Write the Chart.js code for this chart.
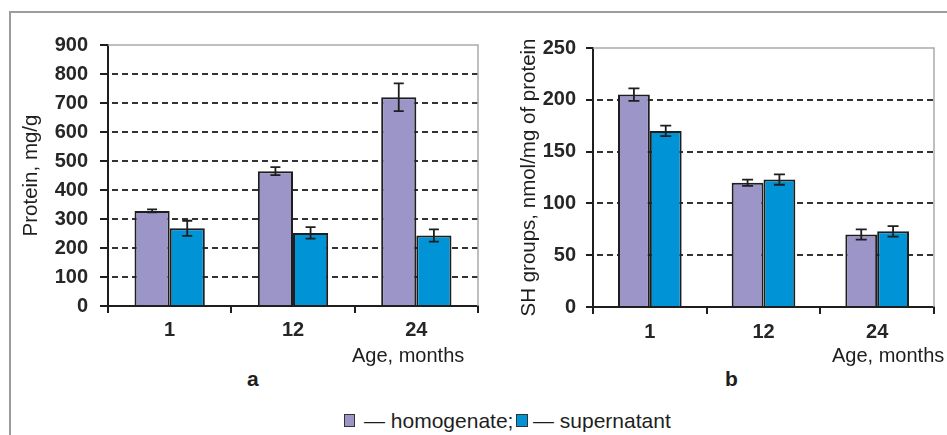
<!DOCTYPE html>
<html>
<head>
<meta charset="utf-8">
<script src="https://cdn.jsdelivr.net/npm/chart.js@4/dist/chart.umd.min.js"></script>
<style>
  html, body { margin: 0; padding: 0; background: #fff; }
  #page { position: relative; width: 947px; height: 435px; overflow: hidden;
          font-family: 'Liberation Sans', Arial, sans-serif; color: #1e1e1e; }
  #frame { position: absolute; left: 9px; top: 11px; width: 980px; height: 470px;
           border-top: 2px solid #9c9c9c; border-left: 2px solid #9c9c9c; }
  canvas { position: absolute; top: 0; }
  .t { position: absolute; white-space: nowrap; line-height: 20px; }
  .sw { position: absolute; box-sizing: border-box; border: 1.5px solid #333; }
</style>
</head>
<body>
<div id="page">
  <div id="frame"></div>
  <canvas id="chartA" width="480" height="345" style="left:0px"></canvas>
  <canvas id="chartB" width="467" height="345" style="left:480px"></canvas>

  <div class="t" style="left:352px;top:345px;font-size:20px">Age, months</div>
  <div class="t" style="left:832px;top:345px;font-size:20px">Age, months</div>
  <div class="t" style="left:247px;top:369px;font-size:21px;font-weight:bold">a</div>
  <div class="t" style="left:725px;top:369px;font-size:21px;font-weight:bold">b</div>

  <div class="sw" style="left:344px;top:414px;width:11px;height:13px;background:#9b95c8"></div>
  <div class="t" style="left:364px;top:411px;font-size:21px">— homogenate;</div>
  <div class="sw" style="left:516px;top:414px;width:12px;height:13px;background:#0093d6"></div>
  <div class="t" style="left:533px;top:411px;font-size:21px">— supernatant</div>
</div>

<script>
// Age groups (months)
const ages = ['1', '12', '24'];

// Panel a: protein content, mg/g
const proteinHomogenate      = [328, 465, 720];
const proteinHomogenateErr   = [5, 14, 48];
const proteinSupernatant     = [268, 252, 243];
const proteinSupernatantErr  = [26, 20, 21];
const proteinAxisMax = 900;
const proteinAxisStep = 100;

// Panel b: SH groups, nmol/mg of protein
const shHomogenate      = [205, 120, 70];
const shHomogenateErr   = [6, 3, 5];
const shSupernatant     = [170, 123, 73];
const shSupernatantErr  = [5, 5, 5];
const shAxisMax = 250;
const shAxisStep = 50;

const colHomogenate = '#9b95c8';
const colSupernatant = '#0093d6';
const ink = '#1e1e1e';
const FONT = "'Liberation Sans', Arial, sans-serif";

// whiskers: mean ± error, drawn through the y scale
const errorBars = {
  id: 'errorBars',
  afterDatasetsDraw(chart, args, opts) {
    const { ctx } = chart;
    const y = chart.scales.y;
    const half = opts.cap / 2;
    chart.data.datasets.forEach((ds, di) => {
      chart.getDatasetMeta(di).data.forEach((bar, i) => {
        const v = ds.data[i], e = ds.errors[i];
        const x = bar.x;
        const yHi = y.getPixelForValue(v + e);
        const yLo = y.getPixelForValue(v - e);
        ctx.save();
        ctx.strokeStyle = ink;
        ctx.lineWidth = 1.8;
        ctx.beginPath();
        ctx.moveTo(x, yHi); ctx.lineTo(x, yLo);
        ctx.moveTo(x - half, yHi); ctx.lineTo(x + half, yHi);
        ctx.moveTo(x - half, yLo); ctx.lineTo(x + half, yLo);
        ctx.stroke();
        ctx.restore();
      });
    });
  }
};

// light top/right edge of the plot area
const plotFrame = {
  id: 'plotFrame',
  beforeDatasetsDraw(chart) {
    const { ctx, chartArea: a } = chart;
    ctx.save();
    ctx.strokeStyle = '#aaaaaa';
    ctx.lineWidth = 1.5;
    ctx.beginPath();
    ctx.moveTo(a.left, a.top);
    ctx.lineTo(a.right, a.top);
    ctx.lineTo(a.right, a.bottom);
    ctx.stroke();
    ctx.restore();
  }
};

function panel(id, g) {
  return new Chart(document.getElementById(id), {
    type: 'bar',
    data: {
      labels: ages,
      datasets: [
        { label: 'homogenate', data: g.homog, errors: g.homogErr,
          backgroundColor: colHomogenate, borderColor: ink, borderWidth: 2, borderSkipped: 'start' },
        { label: 'supernatant', data: g.sup, errors: g.supErr,
          backgroundColor: colSupernatant, borderColor: ink, borderWidth: 2, borderSkipped: 'start' }
      ]
    },
    options: {
      responsive: false,
      animation: false,
      events: [],
      layout: { padding: g.pad },
      datasets: { bar: { categoryPercentage: g.catPct, barPercentage: 1 } },
      plugins: {
        legend: { display: false },
        tooltip: { enabled: false },
        errorBars: { cap: g.cap }
      },
      scales: {
        x: {
          ticks: { color: '#262626', padding: g.xPad, font: { family: FONT, size: 20, weight: 'bold' } },
          grid: { display: true, drawOnChartArea: false, drawTicks: true, tickLength: 7,
                  tickColor: ink, tickWidth: 2, color: ink, lineWidth: 2 },
          border: { color: ink, width: 2 },
          afterFit: s => { s.height = g.xHeight; }
        },
        y: {
          min: 0, max: g.max,
          ticks: { stepSize: g.step, color: '#262626', padding: g.yPad,
                   font: { family: FONT, size: 20, weight: 'bold' } },
          grid: {
            color: c => (c.tick && (c.tick.value === 0 || c.tick.value === g.max)) ? 'rgba(0,0,0,0)' : '#333333',
            lineWidth: 2, tickColor: ink, tickWidth: 2, tickLength: g.yTick
          },
          border: { color: ink, width: 2, dash: [6, 4], dashOffset: -3 },
          title: { display: true, text: g.title, color: '#1e1e1e', padding: { top: g.titlePad, bottom: 0 },
                   font: { family: FONT, size: 20.5, weight: 'normal' } },
          afterFit: s => { s.width = g.yWidth; }
        }
      }
    },
    plugins: [plotFrame, errorBars]
  });
}

panel('chartA', {
  homog: proteinHomogenate, homogErr: proteinHomogenateErr,
  sup: proteinSupernatant, supErr: proteinSupernatantErr,
  max: proteinAxisMax, step: proteinAxisStep, title: 'Protein, mg/g',
  pad: { left: 0, top: 45, right: 2, bottom: 0 },
  yWidth: 108, xHeight: 39, yTick: 8, yPad: 12, xPad: 5, titlePad: 19,
  catPct: 0.57, cap: 10
});

panel('chartB', {
  homog: shHomogenate, homogErr: shHomogenateErr,
  sup: shSupernatant, supErr: shSupernatantErr,
  max: shAxisMax, step: shAxisStep, title: 'SH groups, nmol/mg of protein',
  pad: { left: 0, top: 48, right: 13, bottom: 0 },
  yWidth: 113, xHeight: 38, yTick: 7, yPad: 10, xPad: 6, titlePad: 37,
  catPct: 0.56, cap: 11
});
</script>
</body>
</html>
